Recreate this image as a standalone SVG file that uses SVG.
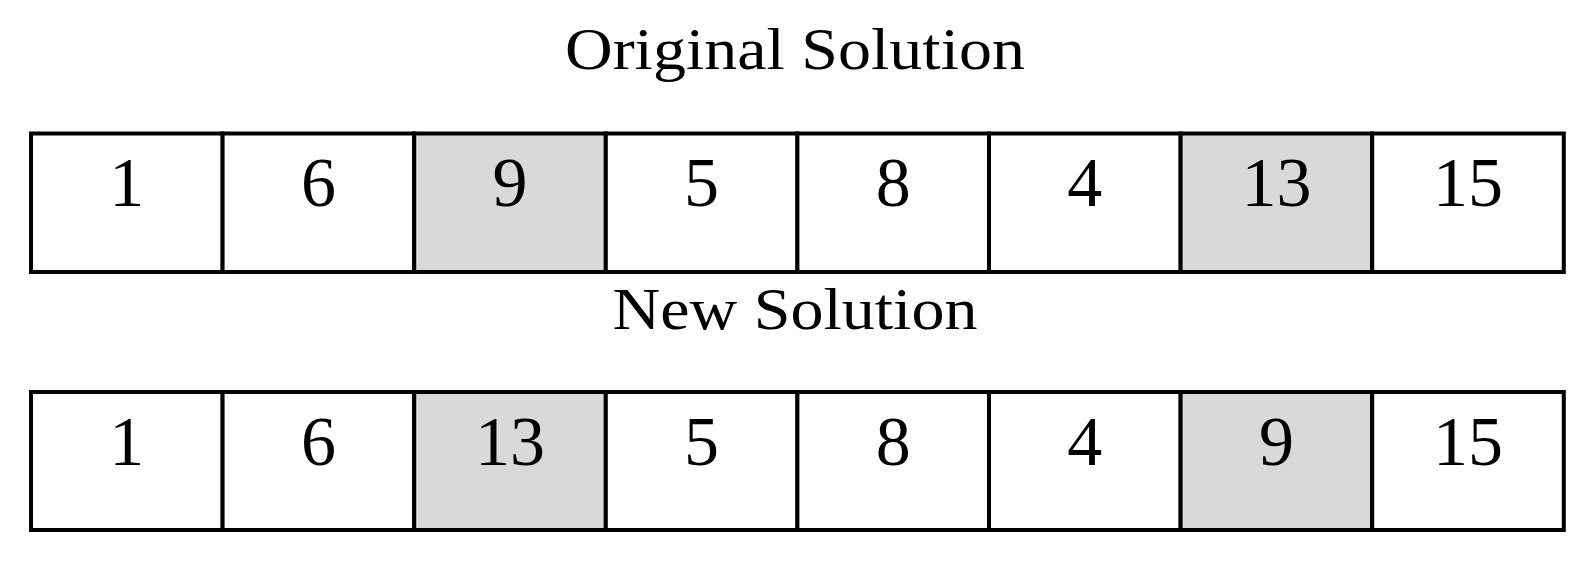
<svg xmlns="http://www.w3.org/2000/svg" width="1593" height="577" viewBox="0 0 1593 577">
<style>
.c{fill:#ffffff;stroke:#000;stroke-width:4}
.g{fill:#d9d9d9;stroke:#000;stroke-width:4}
.t{font-family:"Liberation Serif","Times New Roman",serif;font-size:70px;text-anchor:middle;fill:#000}
.h{font-family:"Liberation Serif","Times New Roman",serif;font-size:60px;text-anchor:middle;fill:#000}
</style>
<rect width="1593" height="577" fill="#fff"/>
<text class="h" x="795" y="69" textLength="460" lengthAdjust="spacingAndGlyphs">Original Solution</text>
<text class="h" x="795" y="329" textLength="365" lengthAdjust="spacingAndGlyphs">New Solution</text>
<g id="row1">
<g id="r1c1"><rect class="c" x="31" y="133.5" width="191.6" height="138.5"/><text class="t" x="126.8" y="206">1</text></g>
<g id="r1c2"><rect class="c" x="222.6" y="133.5" width="191.6" height="138.5"/><text class="t" x="318.4" y="206">6</text></g>
<g id="r1c3"><rect class="g" x="414.2" y="133.5" width="191.6" height="138.5"/><text class="t" x="510" y="206">9</text></g>
<g id="r1c4"><rect class="c" x="605.8" y="133.5" width="191.6" height="138.5"/><text class="t" x="701.6" y="206">5</text></g>
<g id="r1c5"><rect class="c" x="797.4" y="133.5" width="191.6" height="138.5"/><text class="t" x="893.2" y="206">8</text></g>
<g id="r1c6"><rect class="c" x="989" y="133.5" width="191.6" height="138.5"/><text class="t" x="1084.8" y="206">4</text></g>
<g id="r1c7"><rect class="g" x="1180.6" y="133.5" width="191.6" height="138.5"/><text class="t" x="1276.4" y="206">13</text></g>
<g id="r1c8"><rect class="c" x="1372.2" y="133.5" width="191.6" height="138.5"/><text class="t" x="1468" y="206">15</text></g>
</g>
<g id="row2">
<g id="r2c1"><rect class="c" x="31" y="392" width="191.6" height="138"/><text class="t" x="126.8" y="465">1</text></g>
<g id="r2c2"><rect class="c" x="222.6" y="392" width="191.6" height="138"/><text class="t" x="318.4" y="465">6</text></g>
<g id="r2c3"><rect class="g" x="414.2" y="392" width="191.6" height="138"/><text class="t" x="510" y="465">13</text></g>
<g id="r2c4"><rect class="c" x="605.8" y="392" width="191.6" height="138"/><text class="t" x="701.6" y="465">5</text></g>
<g id="r2c5"><rect class="c" x="797.4" y="392" width="191.6" height="138"/><text class="t" x="893.2" y="465">8</text></g>
<g id="r2c6"><rect class="c" x="989" y="392" width="191.6" height="138"/><text class="t" x="1084.8" y="465">4</text></g>
<g id="r2c7"><rect class="g" x="1180.6" y="392" width="191.6" height="138"/><text class="t" x="1276.4" y="465">9</text></g>
<g id="r2c8"><rect class="c" x="1372.2" y="392" width="191.6" height="138"/><text class="t" x="1468" y="465">15</text></g>
</g>
<g id="connectors"/>
</svg>
